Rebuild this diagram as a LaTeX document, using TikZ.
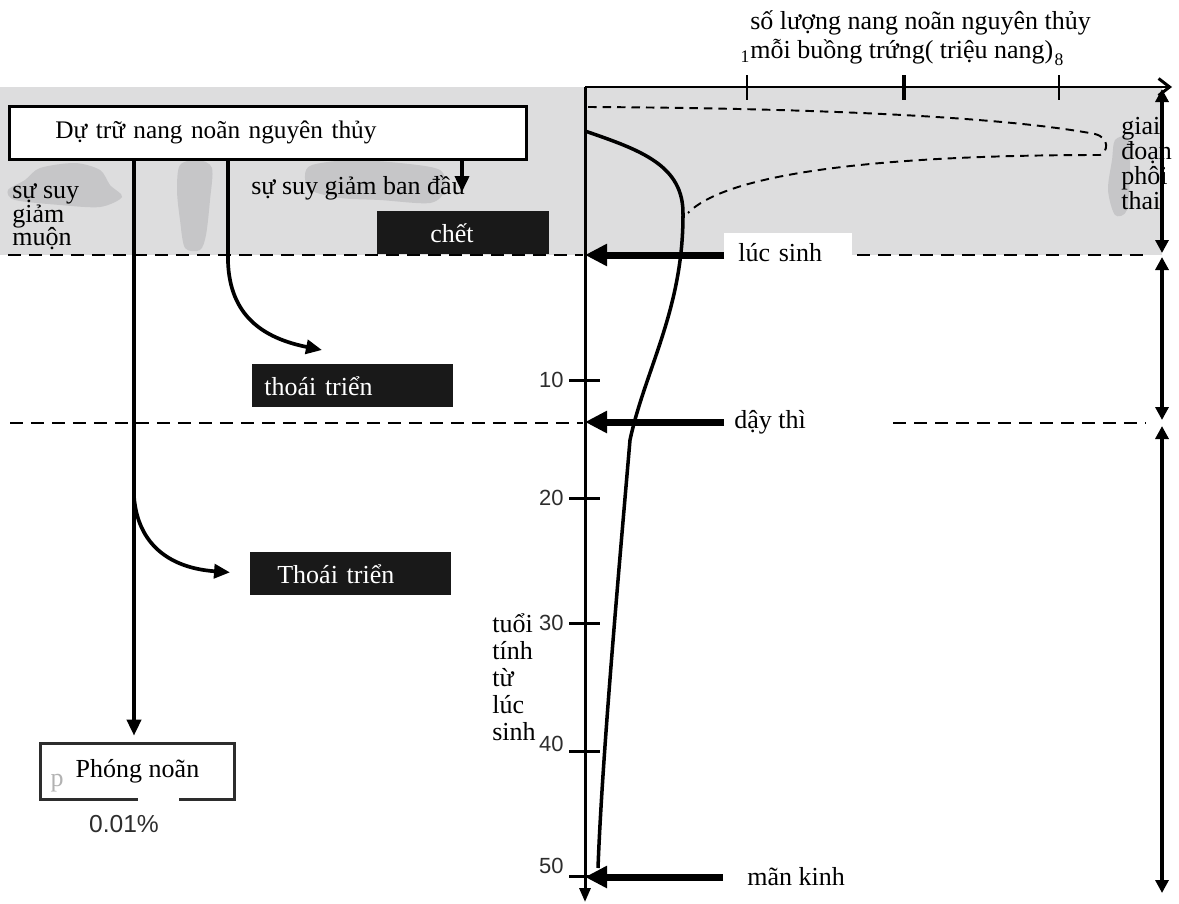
\documentclass[tikz,border=0pt]{standalone}
\usepackage{fontspec}
\setmainfont{Liberation Serif}
\setsansfont{Liberation Sans}
\usetikzlibrary{arrows.meta,positioning,calc}
\definecolor{bandgray}{RGB}{221,221,222}
\definecolor{smudgegray}{RGB}{198,198,200}
\definecolor{inkgray}{RGB}{45,45,45}

\begin{document}
\begin{tikzpicture}[x=0.02cm, y=-0.02cm,
    txt/.style={font=\fontsize{14.8}{16}\selectfont, inner sep=0pt},
    num/.style={font=\sffamily\fontsize{12.5}{13}\selectfont, text=inkgray, inner sep=0pt},
    axis/.style={line width=1.7pt},
    dashline/.style={line width=1.5pt, dash pattern=on 0.26cm off 0.16cm},
    flow/.style={line width=2.1pt, -{Triangle[length=0.32cm, width=0.28cm]}},
    fatarrow/.style={line width=0.14cm, -{Triangle[length=0.44cm, width=0.42cm]}},
    span/.style={line width=1.9pt, {Triangle[length=0.26cm, width=0.26cm]}-{Triangle[length=0.26cm, width=0.26cm]}},
    blackbox/.style={fill=black!90, text=white, font=\fontsize{14.8}{16}\selectfont,
      anchor=north west, minimum height=0.86cm, inner ysep=0pt, align=left}
  ]
  \useasboundingbox (0,0) rectangle (1179,903);

  % Fetal period band
  \fill[bandgray] (0,87) rectangle (1162,255);

  % Smudges
  \fill[smudgegray] plot[smooth cycle] coordinates {(40,168) (75,163) (100,170) (110,185) (122,197) (100,207) (60,205) (15,200) (8,190) (25,180)};
  \fill[smudgegray] plot[smooth cycle] coordinates {(180,165) (198,160) (212,168) (210,200) (206,235) (200,250) (185,248) (180,220) (177,190)};
  \fill[smudgegray] plot[smooth cycle] coordinates {(312,165) (350,160) (400,163) (440,170) (445,190) (430,203) (380,200) (340,198) (310,190) (305,175)};
  \fill[smudgegray] plot[smooth cycle] coordinates {(1115,140) (1128,138) (1130,170) (1127,210) (1115,215) (1108,190) (1112,160)};

  % Axes
  \coordinate (O) at (585,87);
  \draw[axis, -{Straight Barb[length=0.22cm, width=0.34cm]}] (O) -- (1172,87);
  \draw[axis, -{Triangle[length=0.28cm, width=0.22cm]}] (O) -- (585,902);

  % Follicle count scale
  \foreach \x in {747,1059}
    \draw[line width=1.3pt] (\x,75) -- (\x,100);
  \draw[line width=2.5pt] (904,75) -- (904,100);
  \node[font=\fontsize{10}{10}\selectfont, inner sep=0pt] (one) at (745,57) {1};
  \node[font=\fontsize{10}{10}\selectfont, inner sep=0pt] (eight) at (1059,60) {8};
  \node[txt, anchor=north west, align=left, font=\fontsize{14.8}{16.5}\selectfont] (title) at (750,10)
    {số lượng nang noãn nguyên thủy\\mỗi buồng trứng( triệu nang)};

  % Age scale
  \foreach \yy/\ly/\lab in {380/380/10, 498/498/20, 623/623/30, 751/744/40, 876/866/50} {
    \draw[axis] (569,\yy) -- (600,\yy);
    \node[num, anchor=east] (age\lab) at (564,\ly) {\lab};
  }
  \node[txt, anchor=north west, align=left, font=\fontsize{14.8}{15.4}\selectfont] (agetext) at (492,613)
    {tuổi\\tính\\từ\\lúc\\sinh};

  % Follicle curves
  \draw[line width=2pt] (585,131) .. controls (640,150) and (684,165) .. (683,215)
    .. controls (683,310) and (645,370) .. (630,440)
    .. controls (618,580) and (602,760) .. (598,868);
  \draw[line width=1.1pt, dash pattern=on 0.17cm off 0.12cm] (588,107) .. controls (800,108) and (1000,116) .. (1095,134)
    .. controls (1110,138) and (1108,152) .. (1100,155)
    .. controls (900,155) and (730,170) .. (688,213);

  % Milestones
  \draw[dashline] (8,255) -- (583,255);
  \draw[dashline] (857,255) -- (1145,255);
  \draw[dashline] (10,423) -- (583,423);
  \draw[dashline] (893,423) -- (1145,423);
  \node[txt, anchor=west, fill=white, inner xsep=0.28cm, text width=2cm, align=left, minimum height=0.82cm] (birth) at (724,253) {lúc sinh};
  \node[txt, anchor=west, inner xsep=0.2cm] (puberty) at (724,422) {dậy thì};
  \node[txt, anchor=west, inner xsep=0.48cm] (menopause) at (723,877) {mãn kinh};
  \draw[fatarrow] (birth.west |- 0,255) -- (O |- 0,255);
  \draw[fatarrow] (puberty.west) -- (O |- puberty);
  \draw[fatarrow] (menopause.west) -- (O |- menopause);

  % Periods
  \node[txt, anchor=north west, align=left, font=\fontsize{14.8}{12}\selectfont] (fetal) at (1121,117)
    {giai\\đoạn\\phôi\\thai};
  \draw[span] (1162,89) -- (1162,253);
  \draw[span] (1162,257) -- (1162,420);
  \draw[span] (1162,426) -- (1162,893);

  % Reserve and its fates
  \node[draw, line width=1.6pt, fill=white, anchor=north west, minimum height=1.06cm,
    inner xsep=0.92cm, text width=8.5cm, align=left, font=\fontsize{14.4}{16}\selectfont] (reserve) at (8,105)
    {Dự trữ nang noãn nguyên thủy};
  \node[txt, anchor=west] (earlytext) at (251,188) {sự suy giảm ban đầu};
  \node[txt, anchor=north west, align=left, font=\fontsize{14.8}{13.6}\selectfont] (latetext) at (12,183)
    {sự suy\\giảm\\muộn};

  \node[blackbox, minimum width=3.44cm, inner xsep=1.06cm, text width=1.32cm] (death) at (377,211) {chết};
  \node[blackbox, minimum width=4.02cm, inner xsep=0.24cm, text width=3.54cm] (thoai1) at (252,364) {thoái triển};
  \node[blackbox, minimum width=4.02cm, inner xsep=0.54cm, text width=2.94cm] (thoai2) at (250,552) {Thoái triển};

  \node[txt, minimum width=3.86cm, minimum height=1.1cm] (ovul) at (137.5,771.5) {Phóng noãn};
  \draw[line width=1.4pt, inkgray] (ovul.south) -| (ovul.north west) -| (ovul.south east) -- ++(-55,0);
  \node[txt, text=black!30] (pfaint) at (57,783) {p};
  \node[num, font=\sffamily\fontsize{14}{14}\selectfont] (rate) at (124,824) {0.01\%};

  \coordinate (latecol) at (134,0);
  \coordinate (earlycol) at (228,0);
  \coordinate (deathcol) at (462,0);
  \coordinate (split) at (134,497);
  \coordinate (earlytip) at (322,350);
  \coordinate (deathtip) at (462,192);

  \draw[flow, shorten >=0.16cm] (reserve.south -| latecol) -- (ovul.north -| latecol);
  \draw[flow, shorten >=0.4cm] (split) .. controls (138,545) and (170,568) .. (thoai2.west);
  \draw[flow] (reserve.south -| earlycol) -- (228,262) .. controls (230,315) and (262,338) .. (earlytip);
  \draw[flow] (reserve.south -| deathcol) -- (deathtip);
\end{tikzpicture}
\end{document}
